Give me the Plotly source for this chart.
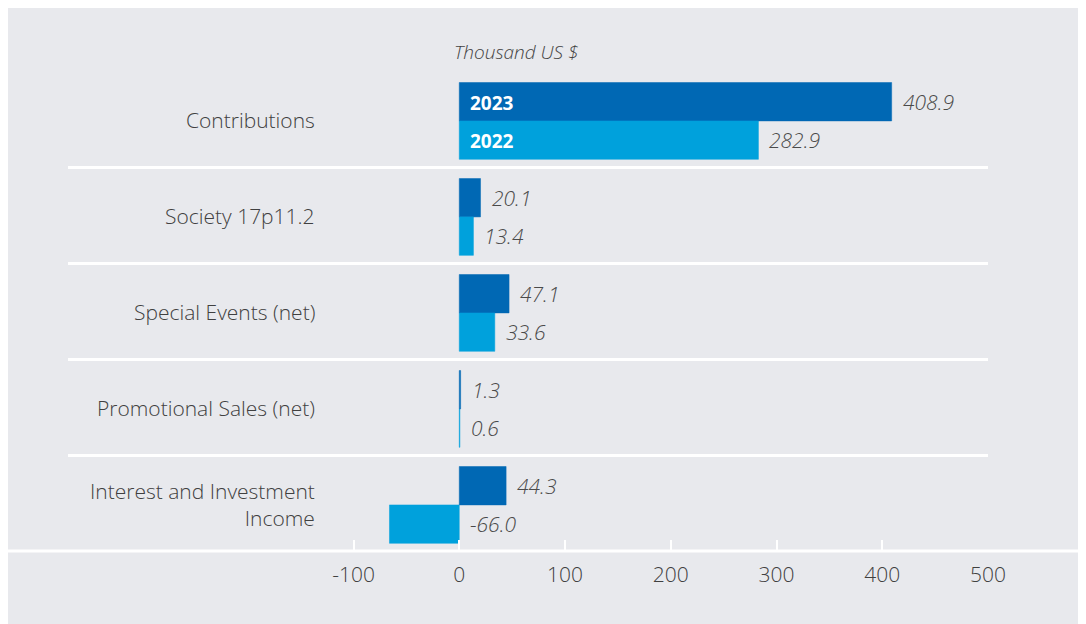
import plotly.graph_objects as go

categories = ["Contributions", "Society 17p11.2", "Special Events (net)",
              "Promotional Sales (net)", "Interest and Investment<br>Income"]
series_names = ["2023", "2022"]
values_2023 = [408.9, 20.1, 47.1, 1.3, 44.3]
values_2022 = [282.9, 13.4, 33.6, 0.6, -66.0]
tick_vals = [-100, 0, 100, 200, 300, 400, 500]
tick_text = ["-100", "0", "100", "200", "300", "400", "500"]
unit_label = "Thousand US $"

colors = ["#0068b4", "#00a1dc"]
BG = "#e8e9ed"
W, H = 1086, 624
OFF = 8  # page body margin
ML, MR, MT, MB = 68 - OFF, W - (988 - OFF), 71 - OFF, H - (551 - OFF)
PW, PH = W - ML - MR, H - MT - MB
BAR_W = 0.4
NUDGE = 0.02  # bars sit slightly below category centre


def px_x(p):
    return (p - OFF - ML) / PW


def px_y(p):
    return (H - MB - (p - OFF)) / PH


fig = go.Figure()
offsets = [-BAR_W + NUDGE, NUDGE]
for name, vals, col, off in zip(series_names, [values_2023, values_2022], colors, offsets):
    fig.add_trace(go.Bar(y=categories, x=vals, orientation="h", name=name,
                         width=BAR_W, offset=off,
                         marker=dict(color=col, line=dict(width=0.5, color=col)),
                         hoverinfo="skip"))

cat_px = PH / len(categories)
shifts = [(BAR_W / 2 - NUDGE) * cat_px, -(BAR_W / 2 + NUDGE) * cat_px]

annotations = []
# value labels
for si, vals in enumerate([values_2023, values_2022]):
    for cat, v in zip(categories, vals):
        annotations.append(dict(
            x=max(v, 0), y=cat, xref="x", yref="y", text=f"{v:.1f}",
            showarrow=False, xanchor="left", yanchor="middle", xshift=9, yshift=shifts[si],
            font=dict(family="Open Sans", size=21, color="#4a4a4a", style="italic", weight=300)))
# year labels inside the first category bars
for si, name in enumerate(series_names):
    annotations.append(dict(
        x=0, y=categories[0], xref="x", yref="y", text=f"<b>{name}</b>",
        showarrow=False, xanchor="left", yanchor="middle", xshift=9, yshift=shifts[si] - 1,
        font=dict(family="Open Sans", size=19, color="white")))
# category labels
for cat in categories:
    annotations.append(dict(
        x=px_x(317), y=cat, xref="paper", yref="y", text=cat, align="right",
        showarrow=False, xanchor="right", yanchor="middle", yshift=-1,
        font=dict(family="Open Sans", size=21, color="#404040", weight=300)))
# unit label
annotations.append(dict(
    x=px_x(516), y=px_y(52), xref="paper", yref="paper", text=unit_label,
    showarrow=False, xanchor="center", yanchor="middle",
    font=dict(family="Open Sans", size=19, color="#444444", style="italic", weight=300)))

rx, ry = 7 / PW, 7 / PH
x0, x1 = px_x(6), px_x(W + 20)
yt, yb = px_y(6), px_y(H + 20)
panel_path = (f"M {x0},{yb} L {x0},{yt - ry} Q {x0},{yt} {x0 + rx},{yt} "
              f"L {x1},{yt} L {x1},{yb} Z")

shapes = [
    dict(type="path", path=panel_path, xref="paper", yref="paper",
         fillcolor=BG, line=dict(width=0), layer="below"),
    dict(type="line", x0=px_x(6), x1=px_x(W + 20), y0=0, y1=0,
         xref="paper", yref="paper", line=dict(color="white", width=3), layer="above"),
]

fig.update_layout(
    width=W, height=H,
    margin=dict(l=ML, r=MR, t=MT, b=MB),
    paper_bgcolor="white", plot_bgcolor=BG,
    barmode="group",
    showlegend=False,
    annotations=annotations, shapes=shapes,
    font=dict(family="Open Sans", color="#404040"),
    xaxis=dict(range=[-370, 500], tickvals=tick_vals, ticktext=tick_text,
               showgrid=False, zeroline=False,
               showline=False, ticks="inside", ticklen=11, tickwidth=2, tickcolor="white",
               ticklabelstandoff=9,
               tickfont=dict(family="Open Sans", size=21, color="#404040", weight=300),
               fixedrange=True),
    yaxis=dict(categoryorder="array", categoryarray=categories, autorange="reversed",
               tickson="boundaries", showgrid=True, gridcolor="white", gridwidth=3,
               showticklabels=False, ticks="", zeroline=False, showline=False,
               fixedrange=True),
)

fig.write_html("out.html")
